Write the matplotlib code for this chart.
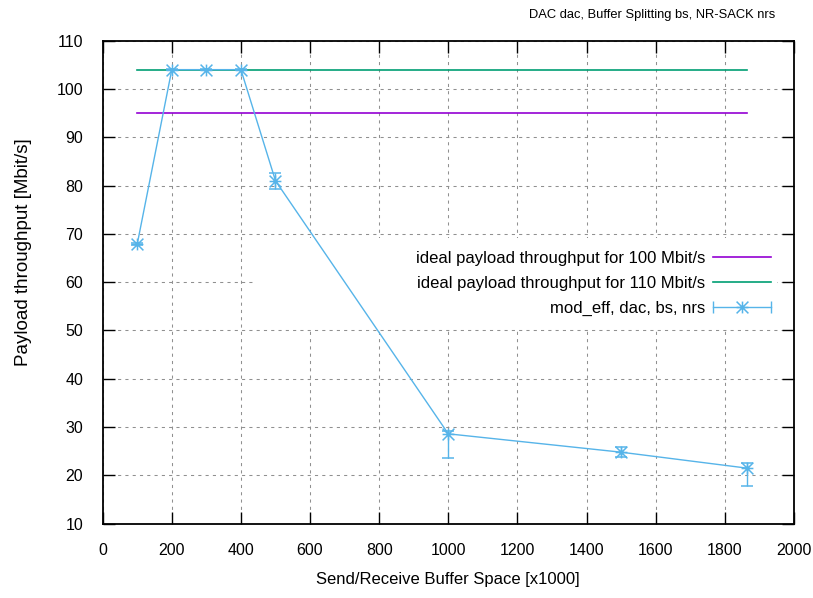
import matplotlib
matplotlib.use("Agg")
import matplotlib.pyplot as plt
from matplotlib.path import Path
from matplotlib.lines import Line2D
from matplotlib.patches import Rectangle
from matplotlib.legend_handler import HandlerLine2D, HandlerTuple

plt.rcParams['font.family'] = ['Liberation Sans', 'DejaVu Sans']

# Buffer space (x1000) and measured payload throughput
buffer_space = [100, 200, 300, 400, 500, 1000, 1500, 1864]
throughput = [67.9, 104.0, 104.0, 104.0, 81.0, 28.6, 24.8, 21.5]
err_low = [0.2, 0.1, 0.1, 0.1, 1.8, 5.1, 1.1, 3.6]
err_high = [0.2, 0.1, 0.1, 0.1, 1.5, 0.5, 1.1, 1.0]

ideal_100 = 95.1
ideal_110 = 104.0

labels = ["ideal payload throughput for 100 Mbit/s",
          "ideal payload throughput for 110 Mbit/s",
          "mod_eff, dac, bs, nrs"]
title = "DAC dac, Buffer Splitting bs, NR-SACK nrs"
xlabel = "Send/Receive Buffer Space [x1000]"
ylabel = "Payload throughput [Mbit/s]"
xticks = list(range(0, 2001, 200))
yticks = list(range(10, 111, 10))

c_purple = "#9400d3"
c_green = "#009e73"
c_blue = "#56b4e9"

# gnuplot-style asterisk: plus combined with a cross
star = Path([(0, -1), (0, 1), (-1, 0), (1, 0),
             (-1, -1), (1, 1), (-1, 1), (1, -1)],
            [Path.MOVETO, Path.LINETO] * 4)

fig = plt.figure(figsize=(8.13, 5.98), dpi=100)
ax = fig.add_axes([0.1263, 0.1243, 0.8502, 0.8077])
ax.set_axisbelow(True)

x0, x1 = buffer_space[0], buffer_space[-1]
ax.plot([x0, x1], [ideal_100, ideal_100], color=c_purple, lw=1.2, zorder=2)
ax.plot([x0, x1], [ideal_110, ideal_110], color=c_green, lw=1.2, zorder=2)
ax.errorbar(buffer_space, throughput, yerr=[err_low, err_high],
            color=c_blue, lw=1.0, elinewidth=1.0, capsize=4.3, capthick=1.0,
            marker=star, markersize=8.5, markeredgewidth=1.1,
            markeredgecolor=c_blue, fillstyle='none', zorder=3)

ax.set_xlim(0, 2000)
ax.set_ylim(10, 110)
ax.set_xticks(xticks)
ax.set_yticks(yticks)
ax.tick_params(direction='in', length=8.6, width=1.0, top=True, right=True,
               labelsize=11.5, pad=14)
for s in ax.spines.values():
    s.set_linewidth(1.3)

ax.grid(True, color='#909090', lw=0.75, ls=(0, (3, 4)))

# opaque key area hides the grid behind the legend
ax.add_patch(Rectangle((0.2175, 0.405), 0.758, 0.1865, transform=ax.transAxes,
                       facecolor='white', edgecolor='none', zorder=1))

ax.set_xlabel(xlabel, fontsize=12)
ax.xaxis.set_label_coords(0.5, -0.1166)
ax.xaxis.label.set_va('center')
ax.set_ylabel(ylabel, fontsize=13.5)
ax.yaxis.set_label_coords(-0.1145, 0.5625)
ax.yaxis.label.set_va('center')

fig.text(0.953, 0.975, title, ha='right', va='center', fontsize=9.3)

h1 = Line2D([], [], color=c_purple, lw=1.2)
h2 = Line2D([], [], color=c_green, lw=1.2)
h_caps = Line2D([], [], color=c_blue, lw=1.0, marker='|', markersize=8.6,
                markeredgewidth=1.0)
h_star = Line2D([], [], color=c_blue, lw=0, marker=star, markersize=8.5,
                markeredgewidth=1.1, fillstyle='none')
leg = ax.legend([h1, h2, (h_caps, h_star)], labels,
                handler_map={h_caps: HandlerLine2D(numpoints=2, marker_pad=0),
                             h_star: HandlerLine2D(numpoints=1),
                             tuple: HandlerTuple(ndivide=1)},
                loc='center right', bbox_to_anchor=(0.967, 0.498),
                frameon=False, fontsize=12, markerfirst=False,
                handlelength=3.5, handletextpad=0.45, labelspacing=0.6,
                borderpad=0, borderaxespad=0)

fig.savefig("out.png", dpi=100)
